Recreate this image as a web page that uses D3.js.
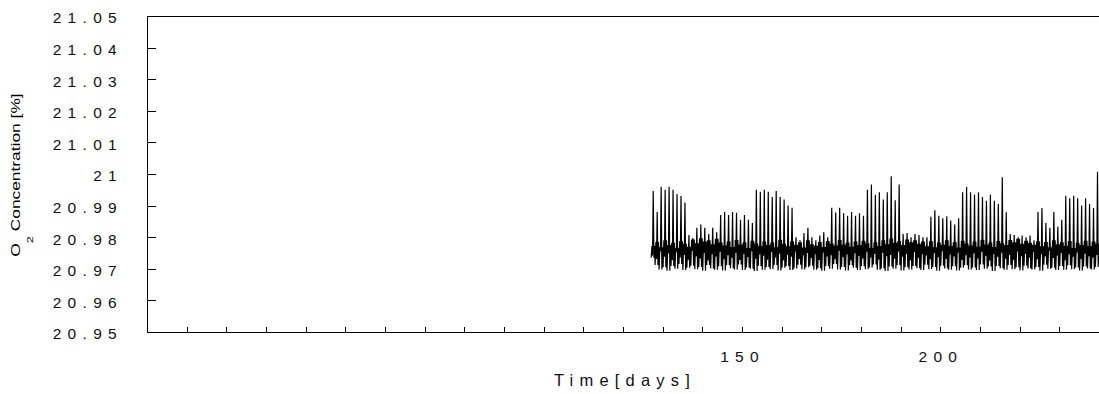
<!DOCTYPE html>
<html>
<head>
<meta charset="utf-8">
<script src="https://cdn.jsdelivr.net/npm/d3@7"></script>
<style>
    body { margin: 0; background: #fff; }
    svg { display: block; font-family: "Liberation Sans", Arial, sans-serif; }
    .axis path, .axis line { stroke: #000; shape-rendering: crispEdges; }
    .axis .tick text { font-size: 15.5px; letter-spacing: 6.3px; fill: #111; }
    .frame { stroke: #000; shape-rendering: crispEdges; }
    .trace { fill: none; stroke: #000; stroke-width: 1.2; }
    .title { font-size: 16.5px; letter-spacing: 6.2px; fill: #111; }
    .ytitle { font-size: 12.4px; fill: #000; }
</style>
</head>
<body>
<div id="chart"></div>
<script>

// first logged day, then one value per day from there on
var firstDay = 127;

// daily spike maximum [%]
var dailyPeaks = [
    20.9946, 20.9880, 20.9960, 20.9950, 20.9960, 20.9950, 20.9937, 20.9930, 20.9910, 20.9807,
    20.9797, 20.9830, 20.9840, 20.9830, 20.9810, 20.9830, 20.9816, 20.9870, 20.9880, 20.9870,
    20.9880, 20.9877, 20.9855, 20.9870, 20.9855, 20.9845, 20.9950, 20.9944, 20.9950, 20.9944,
    20.9927, 20.9946, 20.9927, 20.9919, 20.9900, 20.9893, 20.9800, 20.9790, 20.9813, 20.9830,
    20.9800, 20.9790, 20.9805, 20.9816, 20.9800, 20.9893, 20.9878, 20.9893, 20.9876, 20.9868,
    20.9880, 20.9868, 20.9876, 20.9868, 20.9950, 20.9967, 20.9934, 20.9942, 20.9919, 20.9942,
    20.9993, 20.9917, 20.9967, 20.9810, 20.9813, 20.9800, 20.9810, 20.9807, 20.9800, 20.9800,
    20.9865, 20.9885, 20.9868, 20.9860, 20.9866, 20.9853, 20.9840, 20.9860, 20.9942, 20.9959,
    20.9942, 20.9934, 20.9942, 20.9927, 20.9915, 20.9934, 20.9915, 20.9905, 20.9990, 20.9879,
    20.9810, 20.9807, 20.9800, 20.9805, 20.9800, 20.9805, 20.9790, 20.9880, 20.9892, 20.9845,
    20.9830, 20.9880, 20.9833, 20.9855, 20.9931, 20.9923, 20.9931, 20.9923, 20.9900, 20.9923,
    20.9905, 20.9892, 21.0007
];

// bottom of the daily band
var dailyLows = [
    20.9735, 20.9712, 20.9698, 20.9705, 20.9694, 20.9709, 20.9700, 20.9715, 20.9696, 20.9703,
    20.9710, 20.9699, 20.9706, 20.9694, 20.9712, 20.9701, 20.9697, 20.9708, 20.9695, 20.9711,
    20.9702, 20.9698, 20.9714, 20.9696, 20.9704, 20.9700, 20.9693, 20.9709, 20.9697, 20.9706,
    20.9699, 20.9712, 20.9695, 20.9703, 20.9708, 20.9696, 20.9701, 20.9713, 20.9698, 20.9705,
    20.9710, 20.9697, 20.9702, 20.9694, 20.9709, 20.9700, 20.9715, 20.9698, 20.9706, 20.9695,
    20.9711, 20.9703, 20.9696, 20.9708, 20.9699, 20.9704, 20.9714, 20.9697, 20.9701, 20.9693,
    20.9707, 20.9700, 20.9712, 20.9695, 20.9705, 20.9698, 20.9709, 20.9702, 20.9696, 20.9713,
    20.9699, 20.9706, 20.9694, 20.9710, 20.9701, 20.9697, 20.9708, 20.9695, 20.9703, 20.9711,
    20.9698, 20.9704, 20.9696, 20.9714, 20.9700, 20.9707, 20.9693, 20.9709, 20.9702, 20.9697,
    20.9712, 20.9699, 20.9705, 20.9695, 20.9710, 20.9701, 20.9698, 20.9706, 20.9694, 20.9713,
    20.9700, 20.9703, 20.9696, 20.9709, 20.9697, 20.9711, 20.9699, 20.9704, 20.9695, 20.9707,
    20.9701, 20.9698, 20.9706
];

// middle of the daily band
var dailyMids = [
    20.9742, 20.9731, 20.9755, 20.9738, 20.9749, 20.9727, 20.9752, 20.9736, 20.9744, 20.9729,
    20.9757, 20.9740, 20.9733, 20.9750, 20.9726, 20.9746, 20.9739, 20.9754, 20.9730, 20.9743,
    20.9735, 20.9751, 20.9728, 20.9747, 20.9737, 20.9756, 20.9732, 20.9745, 20.9741, 20.9729,
    20.9753, 20.9736, 20.9748, 20.9727, 20.9744, 20.9738, 20.9755, 20.9731, 20.9742, 20.9750,
    20.9734, 20.9746, 20.9728, 20.9752, 20.9739, 20.9743, 20.9730, 20.9757, 20.9737, 20.9745,
    20.9726, 20.9749, 20.9741, 20.9733, 20.9754, 20.9736, 20.9747, 20.9729, 20.9751, 20.9740,
    20.9744, 20.9732, 20.9755, 20.9738, 20.9748, 20.9727, 20.9753, 20.9735, 20.9746, 20.9742,
    20.9730, 20.9750, 20.9737, 20.9756, 20.9731, 20.9745, 20.9739, 20.9752, 20.9728, 20.9743,
    20.9736, 20.9749, 20.9733, 20.9754, 20.9741, 20.9726, 20.9747, 20.9738, 20.9751, 20.9732,
    20.9744, 20.9729, 20.9755, 20.9740, 20.9748, 20.9735, 20.9753, 20.9730, 20.9746, 20.9739,
    20.9757, 20.9734, 20.9742, 20.9750, 20.9727, 20.9745, 20.9737, 20.9752, 20.9731, 20.9748,
    20.9740, 20.9736, 20.9744
];

// top of the daily band (without the spike)
var dailyHighs = [
    20.9772, 20.9785, 20.9768, 20.9790, 20.9775, 20.9782, 20.9766, 20.9788, 20.9779, 20.9770,
    20.9793, 20.9781, 20.9797, 20.9786, 20.9790, 20.9778, 20.9795, 20.9783, 20.9774, 20.9787,
    20.9769, 20.9791, 20.9777, 20.9784, 20.9766, 20.9789, 20.9780, 20.9772, 20.9786, 20.9775,
    20.9783, 20.9768, 20.9792, 20.9779, 20.9771, 20.9787, 20.9776, 20.9784, 20.9767, 20.9790,
    20.9778, 20.9773, 20.9785, 20.9769, 20.9788, 20.9780, 20.9774, 20.9791, 20.9777, 20.9783,
    20.9770, 20.9786, 20.9775, 20.9789, 20.9781, 20.9766, 20.9784, 20.9772, 20.9790, 20.9778,
    20.9796, 20.9782, 20.9788, 20.9775, 20.9793, 20.9784, 20.9790, 20.9779, 20.9786, 20.9771,
    20.9787, 20.9768, 20.9783, 20.9776, 20.9790, 20.9773, 20.9785, 20.9767, 20.9789, 20.9780,
    20.9774, 20.9786, 20.9770, 20.9792, 20.9777, 20.9783, 20.9769, 20.9788, 20.9781, 20.9775,
    20.9791, 20.9784, 20.9795, 20.9779, 20.9789, 20.9782, 20.9776, 20.9787, 20.9771, 20.9785,
    20.9768, 20.9790, 20.9778, 20.9784, 20.9773, 20.9788, 20.9766, 20.9782, 20.9775, 20.9789,
    20.9772, 20.9786, 20.9780
];

// time of day (fraction) of the readings: low, high, mid, spike, low, high
var sampleTimes = [0.1, 0.3, 0.45, 0.62, 0.8, 0.95];

var yTicks = [20.95, 20.96, 20.97, 20.98, 20.99, 21.00, 21.01, 21.02, 21.03, 21.04, 21.05];
var xTicks = [10, 20, 30, 40, 50, 60, 70, 80, 90, 100, 110, 120, 130, 140, 150, 160,
              170, 180, 190, 200, 210, 220, 230];
var xLabels = [150, 200];

var o2Chart = (function () {

    "use strict";

    var width = 1099,
        height = 394,
        margin = {top: 16, right: 0, bottom: 62, left: 147},
        x,
        y;

    /* Turn the daily readings into one time series */

    function buildSeries() {
        var points = [];
        for (var i = 0; i < dailyPeaks.length; i++) {
            var day = firstDay + i,
                values = [dailyLows[i], dailyHighs[i], dailyMids[i], dailyPeaks[i], dailyLows[i], dailyHighs[i]];
            for (var j = 0; j < sampleTimes.length; j++) {
                points.push({t: day + sampleTimes[j], v: values[j]});
            }
        }
        return points;
    }

    function render() {

        var svg = d3.select("#chart").append("svg")
                .attr("width", width)
                .attr("height", height),

            plotW = width - margin.left - margin.right,
            plotH = height - margin.top - margin.bottom;

        x = d3.scaleLinear().domain([0, 240]).range([margin.left, margin.left + plotW]);
        y = d3.scaleLinear().domain([20.95, 21.05]).range([margin.top + plotH, margin.top]);

        // data
        var line = d3.line()
            .x(function (d) { return x(d.t); })
            .y(function (d) { return y(d.v); });

        svg.append("path")
            .datum(buildSeries())
            .attr("class", "trace")
            .attr("d", line);

        // top frame line
        svg.append("line")
            .attr("class", "frame")
            .attr("x1", margin.left).attr("x2", width)
            .attr("y1", margin.top + 0.5).attr("y2", margin.top + 0.5);

        // y axis, ticks pointing inward
        var yAxis = svg.append("g")
            .attr("class", "axis")
            .attr("transform", "translate(" + margin.left + ",0)")
            .call(d3.axisLeft(y)
                .tickValues(yTicks)
                .tickSize(-9)
                .tickSizeOuter(0)
                .tickPadding(24)
                .tickFormat(function (d) { return String(+d.toFixed(2)); }));
        yAxis.selectAll(".tick text").attr("dy", "0.45em");

        // x axis, ticks pointing inward, only a few labels
        var xAxis = svg.append("g")
            .attr("class", "axis")
            .attr("transform", "translate(0," + (margin.top + plotH) + ")")
            .call(d3.axisBottom(x)
                .tickValues(xTicks)
                .tickSize(-5)
                .tickSizeOuter(0)
                .tickPadding(19)
                .tickFormat(function (d) { return xLabels.indexOf(d) >= 0 ? d : ""; }));
        xAxis.select(".domain").attr("d", "M" + margin.left + ",0.5H" + width);

        // axis titles
        svg.append("text")
            .attr("class", "title")
            .attr("x", 625)
            .attr("y", 386)
            .attr("text-anchor", "middle")
            .text("Time[days]");

        var yt = svg.append("text")
            .attr("class", "ytitle")
            .attr("text-anchor", "middle")
            .attr("transform", "translate(20,175) rotate(-90) scale(1.4,1)");
        yt.append("tspan").text("O");
        yt.append("tspan").attr("dy", 13).attr("font-size", "9px").text("2");
        yt.append("tspan").attr("dy", -13).text(" Concentration [%]");
    }

    return {
        render: render
    };

}());

o2Chart.render();
</script>
</body>
</html>
